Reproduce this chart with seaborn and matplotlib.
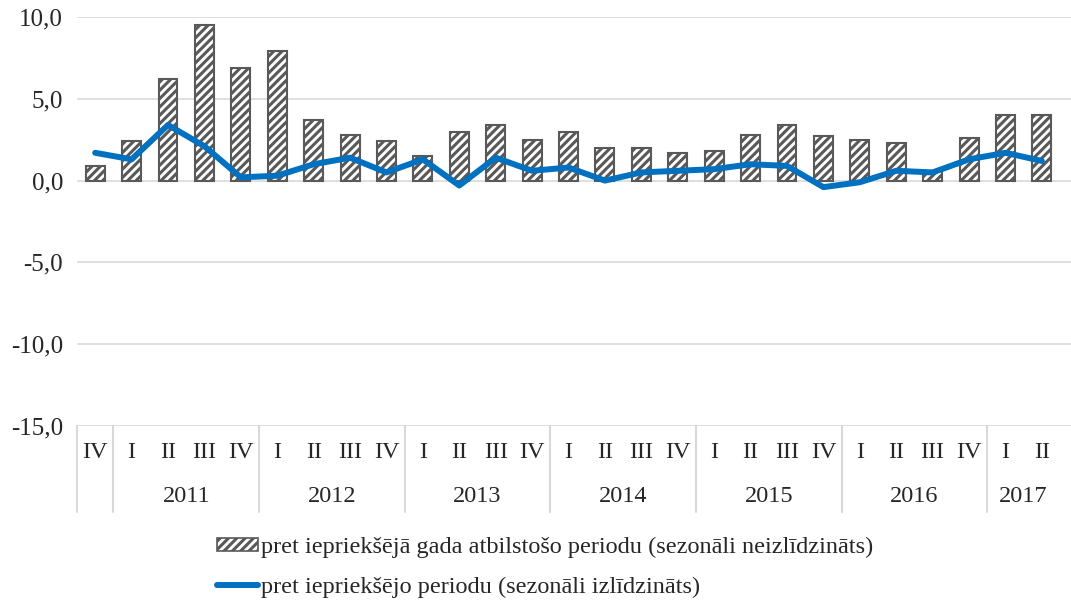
import numpy as np
import pandas as pd
import matplotlib
matplotlib.use("Agg")
import matplotlib.pyplot as plt
import matplotlib.transforms as mtransforms
from matplotlib.patches import Patch
from matplotlib.lines import Line2D
import seaborn as sns

# data
years = ["2010", "2011", "2011", "2011", "2011", "2012", "2012", "2012", "2012",
         "2013", "2013", "2013", "2013", "2014", "2014", "2014", "2014",
         "2015", "2015", "2015", "2015", "2016", "2016", "2016", "2016",
         "2017", "2017"]
quarters = ["IV", "I", "II", "III", "IV", "I", "II", "III", "IV",
            "I", "II", "III", "IV", "I", "II", "III", "IV",
            "I", "II", "III", "IV", "I", "II", "III", "IV",
            "I", "II"]
yoy = [0.9, 2.4, 6.2, 9.5, 6.9, 7.9, 3.7, 2.8, 2.4,
       1.5, 3.0, 3.4, 2.5, 3.0, 2.0, 2.0, 1.7,
       1.8, 2.8, 3.4, 2.7, 2.5, 2.3, 0.6, 2.6,
       4.0, 4.0]
qoq = [1.7, 1.3, 3.4, 2.1, 0.2, 0.3, 1.0, 1.4, 0.5,
       1.3, -0.3, 1.4, 0.6, 0.8, 0.0, 0.5, 0.6,
       0.7, 1.0, 0.9, -0.4, -0.1, 0.6, 0.5, 1.3,
       1.7, 1.2]
year_labels = ["2011", "2012", "2013", "2014", "2015", "2016", "2017"]

df = pd.DataFrame({
    "key": [f"{y} {q}" for y, q in zip(years, quarters)],
    "yoy": yoy,
    "qoq": qoq,
})

FS = 17.5

sns.set_theme(style="white")
plt.rcParams["font.family"] = ["Liberation Serif", "DejaVu Serif"]
plt.rcParams["hatch.color"] = "#595959"
plt.rcParams["hatch.linewidth"] = 2.2

fig = plt.figure(figsize=(10.71, 6.03), dpi=100)
ax = fig.add_axes([77 / 1071, 1 - 426 / 603, 1 - 77 / 1071, (426 - 17) / 603])

sns.barplot(data=df, x="key", y="yoy", ax=ax, color="white", width=0.52,
            edgecolor="#595959", linewidth=1.5, hatch="////", zorder=2)
sns.lineplot(data=df, x="key", y="qoq", ax=ax, color="#0070C0",
             linewidth=4.3, zorder=3, sort=False)

ax.set_xlim(-0.5, 26.8)
ax.set_ylim(-15, 10)
ax.set_yticks([-15, -10, -5, 0, 5, 10])
ax.set_yticklabels([f"{v:.1f}".replace(".", ",") for v in [-15, -10, -5, 0, 5, 10]],
                   fontsize=18)
ax.tick_params(axis="y", length=0, pad=10)
ax.set_xticks([])
ax.set_xlabel("")
ax.set_ylabel("")
for s in ax.spines.values():
    s.set_visible(False)
ax.yaxis.grid(True, color="#d9d9d9", linewidth=1.2, zorder=0)
ax.set_axisbelow(True)

# category axis table below the plot
trans = mtransforms.blended_transform_factory(ax.transData, fig.transFigure)
y_q = 1 - 453 / 603
y_y = 1 - 497 / 603
y_top = 1 - 426 / 603
y_bot = 1 - 512 / 603
for i, q in enumerate(quarters):
    fig.text(i, y_q, q, transform=trans, ha="center", va="center", fontsize=FS)

bounds = [-0.5, 0.5]
for i in range(1, len(years)):
    if years[i] != years[i - 1] and i > 1:
        bounds.append(i - 0.5)
for b in bounds:
    fig.add_artist(Line2D([b, b], [y_top, y_bot], transform=trans,
                          color="#d9d9d9", linewidth=1.5))

for yl in year_labels:
    idx = [i for i, y in enumerate(years) if y == yl]
    fig.text(np.mean(idx), y_y, yl, transform=trans, ha="center", va="center",
             fontsize=FS)

# legend
handles = [
    Patch(facecolor="#ffffff", edgecolor="#595959", hatch="////", linewidth=1.2),
    Line2D([0], [0], color="#0070C0", linewidth=4.3),
]
labels = [
    "pret iepriekšējā gada atbilstošo periodu (sezonāli neizlīdzināts)",
    "pret iepriekšējo periodu (sezonāli izlīdzināts)",
]
leg = fig.legend(handles, labels, loc="upper left",
                 bbox_to_anchor=(217 / 1071, 1 - 537 / 603),
                 frameon=False, fontsize=FS, handlelength=1.7,
                 handleheight=0.45, handletextpad=0.1, labelspacing=0.75,
                 borderpad=0, borderaxespad=0)

fig.savefig("out.png", dpi=100)
